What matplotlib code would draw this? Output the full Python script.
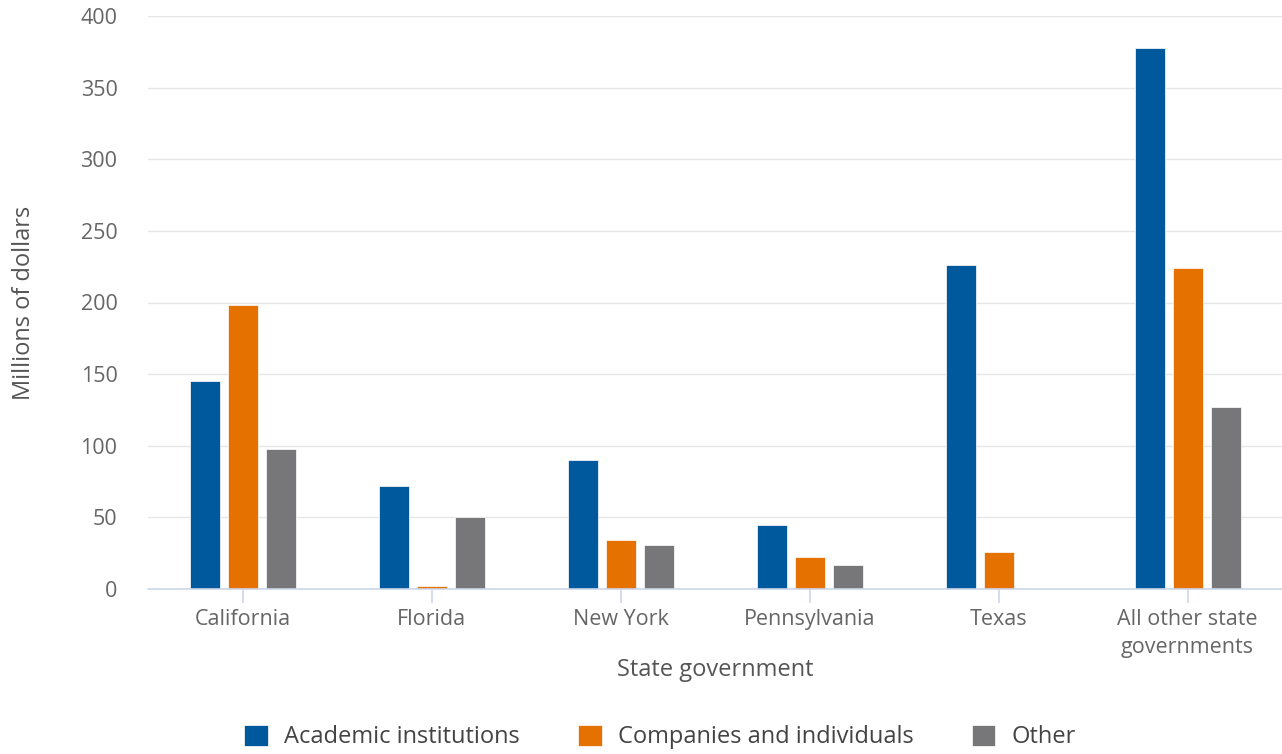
import matplotlib
matplotlib.use("Agg")
import matplotlib.pyplot as plt
import numpy as np

categories = ["California", "Florida", "New York", "Pennsylvania", "Texas", "All other state\ngovernments"]
academic = [145, 72, 90, 45, 226, 378]
companies = [198, 2, 34, 22, 26, 224]
other = [98, 50, 31, 17, 0, 127]
series_names = ["Academic institutions", "Companies and individuals", "Other"]
colors = ["#00599c", "#e57200", "#77777a"]

plt.rcParams['font.family'] = ['Open Sans', 'DejaVu Sans']

fig = plt.figure(figsize=(12.82, 7.54), dpi=100)
ax = fig.add_axes([148/1282, (754-589)/754, (1282-148)/1282, (589-16)/754])

x = np.arange(len(categories))
bw = 30/189
step = 38/189
for i, (vals, name, c) in enumerate(zip([academic, companies, other], series_names, colors)):
    ax.bar(x + (i-1)*step, vals, width=bw, color=c, edgecolor='white', linewidth=0.5, label=name, zorder=3)

ax.set_xlim(-0.5, len(categories)-0.5)
ax.set_ylim(0, 400)
ax.set_yticks(np.arange(0, 401, 50))
ax.grid(axis='y', color='#e6e6e6', linewidth=1, zorder=0)
for s in ['top', 'right', 'left']:
    ax.spines[s].set_visible(False)
ax.spines['bottom'].set_color('#ccd6eb')
ax.spines['bottom'].set_linewidth(1.2)
ax.spines['bottom'].set_zorder(4)
ax.set_xticks(x)
ax.set_xticklabels(categories, fontsize=15.5, color='#666666', linespacing=1.4)
ax.tick_params(axis='x', length=10, color='#ccd6eb', width=1.2, pad=4.5)
ax.tick_params(axis='y', length=0, labelsize=15.5, labelcolor='#666666', pad=22)
ax.set_xlabel("State government", fontsize=17, color='#555555', labelpad=0)
ax.set_ylabel("Millions of dollars", fontsize=17, color='#555555', labelpad=32)

leg = fig.legend(loc='lower center', bbox_to_anchor=(0.515, -0.022), ncol=3, frameon=False,
                 fontsize=17, handlelength=1.0, handleheight=1.0, handletextpad=0.7,
                 columnspacing=2.45, labelcolor='#444444')

fig.savefig("out.png", dpi=100)
